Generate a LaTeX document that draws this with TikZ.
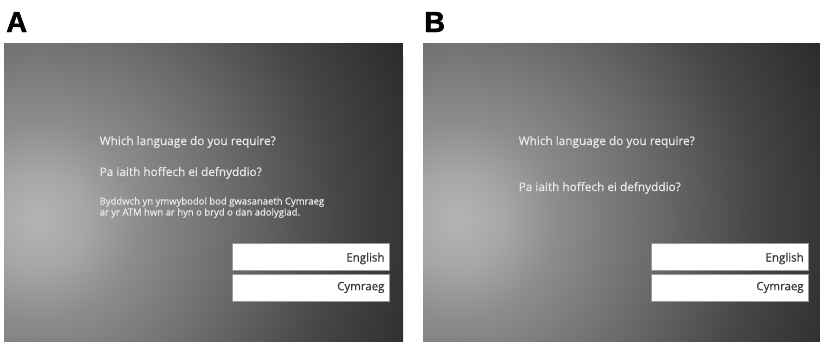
\documentclass[tikz,border=0pt]{standalone}
\usepackage{fontspec}
\setmainfont{Open Sans}
\newfontfamily\screenfont{Open Sans}[FakeBold=0.7]
\newfontfamily\labelfont{Liberation Sans}[BoldFeatures={FakeBold=1.5}]
\usetikzlibrary{calc}
\definecolor{g0}{HTML}{B4B4B4}
\definecolor{g1}{HTML}{A6A6A6}
\definecolor{g2}{HTML}{8C8C8C}
\definecolor{g3}{HTML}{6A6A6A}
\definecolor{g4}{HTML}{464646}
\definecolor{g5}{HTML}{2C2C2C}
\definecolor{screentext}{HTML}{E8E8E8}
\definecolor{btntextcol}{HTML}{3A3A3A}
\definecolor{btnborder}{HTML}{9A9A9A}
\pgfdeclareradialshading{atmshade}{\pgfpoint{0bp}{0bp}}{color(0bp)=(g0); color(3bp)=(g1); color(6.25bp)=(g2); color(12.5bp)=(g3); color(18.75bp)=(g4); color(25bp)=(g5); color(50bp)=(g5)}
\tikzset{
  panellabel/.style={anchor=base west, inner sep=0pt, font=\labelfont\bfseries\fontsize{29}{30}\selectfont, text=black},
  bigq/.style={anchor=base west, inner sep=0pt, text=screentext, font=\screenfont\fontsize{11.8}{13}\selectfont},
  smallq/.style={anchor=base west, inner sep=0pt, text=screentext, font=\screenfont\fontsize{9.5}{10}\selectfont},
  btn/.style={draw=btnborder, line width=0.8pt, fill=white, minimum width=157pt, minimum height=26.7pt, inner sep=0pt},
  btntext/.style={anchor=base east, inner sep=0pt, text=btntextcol, font=\screenfont\fontsize{11.5}{12}\selectfont}
}
\begin{document}
\begin{tikzpicture}[x=1pt,y=-1pt]
\useasboundingbox (0,0) rectangle (820,341);
\fill[white] (0,0) rectangle (820,341);

% Panel A screen
\begin{scope}
\clip (4,43) rectangle (403,341);
\fill[g5] (4,43) rectangle (403,341);
\shade[shading=atmshade] (38,220) circle [radius=400pt];
\end{scope}
% Panel B screen
\begin{scope}
\clip (423,43) rectangle (820,341);
\fill[g5] (423,43) rectangle (820,341);
\shade[shading=atmshade] (457,220) circle [radius=400pt];
\end{scope}

% labels
\node[panellabel] (labA) at (6,32) {A};
\node[panellabel] (labB) at (424,32) {B};

% Panel A texts
\node[bigq] (qA1) at (99.5,145) {Which language do you require?};
\node[bigq] (qA2) at (99.5,176) {Pa iaith hoffech ei defnyddio?};
\node[smallq] (nA1) at (99.5,204.5) {Byddwch yn ymwybodol bod gwasanaeth Cymraeg};
\node[smallq] (nA2) at (99.5,215.5) {ar yr ATM hwn ar hyn o bryd o dan adolygiad.};

% Panel A buttons
\node[btn] (engA) at (310.8,256.7) {};
\node[btn] (cymA) at (310.8,287.7) {};
\node[btntext] (engAt) at ($(engA.east)+(-5,4.8)$) {English};
\node[btntext] (cymAt) at ($(cymA.east)+(-5,2.5)$) {Cymraeg};

% Panel B texts
\node[bigq] (qB1) at (518.5,145) {Which language do you require?};
\node[bigq] (qB2) at (518.5,191) {Pa iaith hoffech ei defnyddio?};

% Panel B buttons
\node[btn] (engB) at (730,256.7) {};
\node[btn] (cymB) at (730,287.7) {};
\node[btntext] (engBt) at ($(engB.east)+(-5,4.8)$) {English};
\node[btntext] (cymBt) at ($(cymB.east)+(-5,2.5)$) {Cymraeg};
\end{tikzpicture}
\end{document}
